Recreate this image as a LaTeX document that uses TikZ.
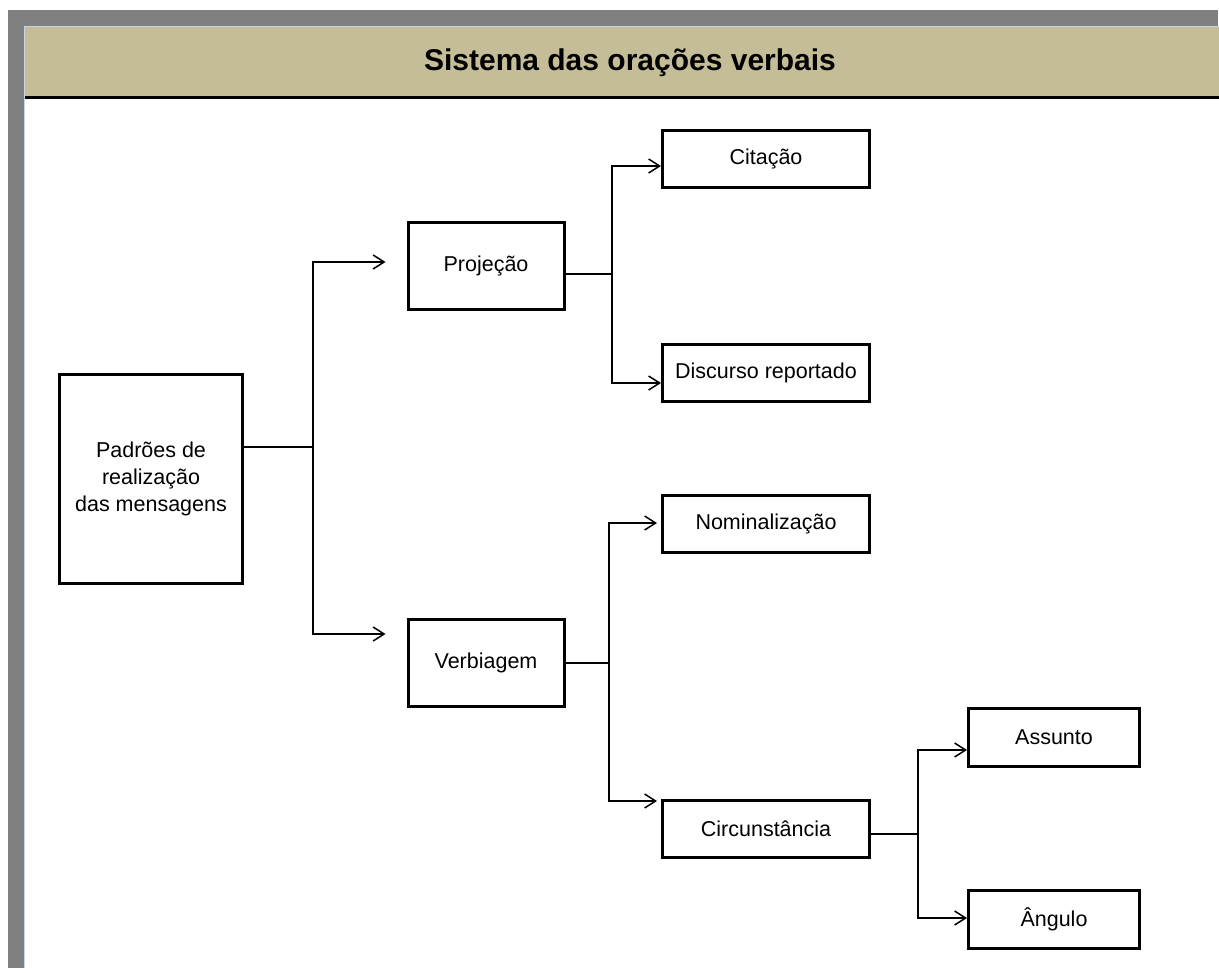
\documentclass[tikz,border=0pt]{standalone}
\usepackage{fontspec}
\setmainfont{Liberation Sans}
\usepackage{tikz}
\usetikzlibrary{calc,arrows.meta}

\definecolor{moldura}{HTML}{808080}
\definecolor{faixa}{HTML}{C4BD97}
\definecolor{borda}{HTML}{C8D4E4}

\tikzset{
  caixa/.style={draw, line width=1.5pt, inner sep=0pt, align=center,
    font=\fontsize{10.75}{13.3}\selectfont},
  grande/.style={caixa, minimum width=91.5pt, minimum height=104.5pt},
  media/.style={caixa, minimum width=78pt, minimum height=43.5pt},
  larga/.style={caixa, minimum width=103.5pt, minimum height=28.5pt},
  curta/.style={caixa, minimum width=85.5pt, minimum height=29pt},
  liga/.style={line width=0.75pt},
  >={Straight Barb[length=5.5pt,width=7pt,line width=0.75pt]}
}

\begin{document}
\begin{tikzpicture}[x=0.5pt,y=-0.5pt]

\fill[white] (0,0) rectangle (1219,973);
\useasboundingbox (0,0) rectangle (1219,973);

% moldura e faixa do titulo
\fill[moldura] (8,10) rectangle (24,968);
\fill[moldura] (8,10) rectangle (1218,26);
\draw[borda, line width=0.5pt] (24.5,968) -- (24.5,26.5) -- (1219,26.5);
\fill[faixa] (25,27) rectangle (1219,97);
\draw[line width=1.5pt] (25,98) -- (1219,98);

\node (titulo) at (630,63) {\fontsize{15}{18}\selectfont\bfseries Sistema das orações verbais};

\node[grande] (pad) at (151,479) {Padrões de\\realização\\ das mensagens};

\node[media] (proj) at (486,266) {Projeção};
\node[media] (verb) at (486,663) {Verbiagem};

\node[larga] (cit) at (766,159) {Citação};
\node[larga] (disc) at (766,373) {Discurso reportado};
\node[larga] (nom) at (766,524) {Nominalização};
\node[larga] (circ) at (766,829) {Circunstância};

\node[curta] (ass) at (1054,737) {Assunto};
\node[curta] (ang) at (1054,919) {Ângulo};

\coordinate (j1) at (313,447);
\coordinate (j2) at (612,274);
\coordinate (j3) at (609,663);
\coordinate (j4) at (918,834);

\draw[liga] (pad.east |- j1) -- (j1);
\draw[liga,->,shorten >=10.5pt] (j1) |- ($(proj.west)+(0,-4)$);
\draw[liga,->,shorten >=10.5pt] (j1) |- ($(verb.west)+(0,-29)$);

\draw[liga] ($(proj.east)+(0,8)$) -- (j2);
\draw[liga,->] (j2) |- ($(cit.west)+(0,7)$);
\draw[liga,->] (j2) |- ($(disc.west)+(0,10)$);

\draw[liga] (verb.east) -- (j3);
\draw[liga,->,shorten >=2pt] (j3) |- ($(nom.west)+(0,-1)$);
\draw[liga,->,shorten >=2pt] (j3) |- ($(circ.west)+(0,-28)$);

\draw[liga] ($(circ.east)+(0,5)$) -- (j4);
\draw[liga,->] (j4) |- ($(ass.west)+(0,13)$);
\draw[liga,->] (j4) |- ($(ang.west)+(0,-1)$);

\end{tikzpicture}
\end{document}
